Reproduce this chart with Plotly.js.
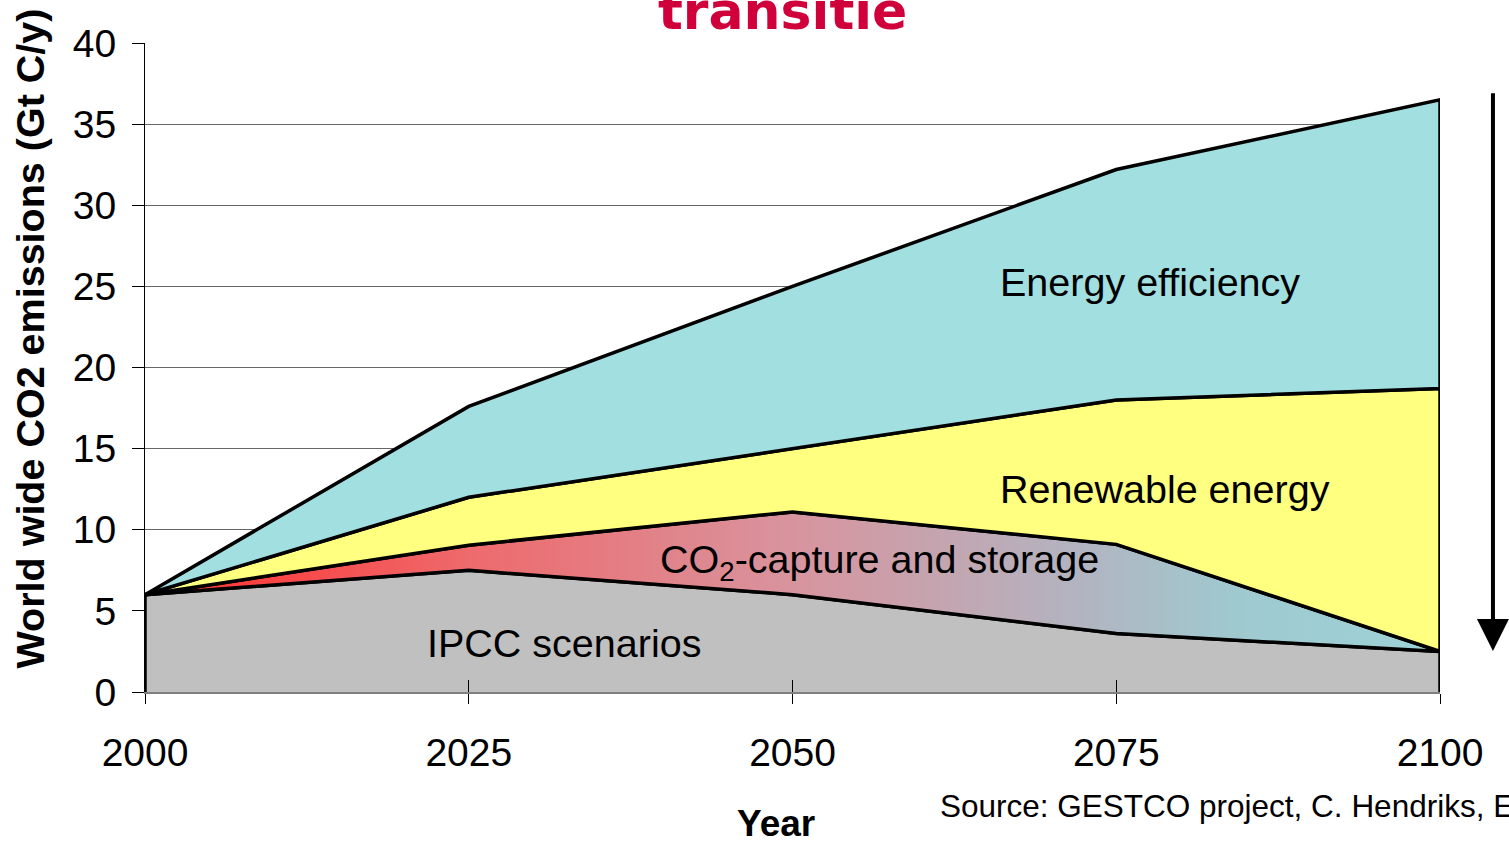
<!DOCTYPE html>
<html>
<head>
<meta charset="utf-8">
<script src="https://cdn.plot.ly/plotly-3.0.1.min.js"></script>
<style>html,body{margin:0;padding:0;background:#fff;}#chart{width:1509px;height:843px;}</style>
</head>
<body>
<div id="chart"></div>
<script>
// Years
const years = [2000, 2025, 2050, 2075, 2100];
// Upper boundary of each stacked layer (Gt C/y)
const ipccTop = [6, 7.5, 6, 3.6, 2.5];
const ccsTop = [6, 9.05, 11.1, 9.1, 2.5];
const renewableTop = [6, 12.0, 15.0, 18.0, 18.7];
const efficiencyTop = [6, 17.6, 25.0, 32.2, 36.5];
const yTicks = [0, 5, 10, 15, 20, 25, 30, 35, 40];
const layerNames = ["IPCC scenarios", "CO<sub>2</sub>-capture and storage", "Renewable energy", "Energy efficiency"];

const FONT = "Liberation Sans, Arial, sans-serif";

function band(top, bottom) {
  const n = years.length;
  const x = years.slice();
  const y = top.slice();
  for (let i = n - 1; i >= 0; i--) { x.push(years[i]); y.push(bottom[i]); }
  return {x, y};
}

const greyX = [years[0]].concat(years, [years[years.length - 1]]);
const greyY = [0].concat(ipccTop, [0]);

const ccs = band(ccsTop, ipccTop);
const ren = band(renewableTop, ccsTop);
const eff = band(efficiencyTop, renewableTop);

const lineStyle = {color: "#000", width: 3.5};

const traces = [
  {x: greyX, y: greyY, mode: "lines", fill: "toself", fillcolor: "#c0c0c0", line: lineStyle, hoverinfo: "skip", showlegend: false, name: layerNames[0]},
  {x: ccs.x, y: ccs.y, mode: "lines", fill: "toself", line: lineStyle, hoverinfo: "skip", showlegend: false, name: layerNames[1],
    fillcolor: "#e88080",
    fillgradient: {type: "horizontal", start: 2000, stop: 2100,
      colorscale: [[0, "#ff2c2c"], [0.25, "#ee6a6c"], [0.5, "#d8949e"], [0.72, "#b2b4c0"], [0.85, "#9ecad0"], [1, "#9ed2d6"]]}},
  {x: ren.x, y: ren.y, mode: "lines", fill: "toself", fillcolor: "#ffff80", line: lineStyle, hoverinfo: "skip", showlegend: false, name: layerNames[2]},
  {x: eff.x, y: eff.y, mode: "lines", fill: "toself", fillcolor: "#a2dfe0", line: lineStyle, hoverinfo: "skip", showlegend: false, name: layerNames[3]},
  {x: [2000], y: [0], xaxis: "x2", yaxis: "y", mode: "markers", marker: {opacity: 0}, hoverinfo: "skip", showlegend: false}
];

const labelFont = {family: FONT, size: 39.5, color: "#000"};

const layout = {
  width: 1509, height: 843,
  margin: {l: 145, r: 69, t: 43, b: 151},
  paper_bgcolor: "#fff", plot_bgcolor: "#fff",
  showlegend: false,
  xaxis: {
    range: [2000, 2100], tickvals: years, ticktext: years.map(String),
    ticks: "outside", ticklen: 10, tickwidth: 1, tickcolor: "#000",
    showgrid: false, zeroline: false,
    showline: true, linecolor: "#808080", linewidth: 2,
    tickfont: {family: FONT, size: 39, color: "#000"},
    ticklabelstandoff: 15,
    fixedrange: true
  },
  xaxis2: {
    range: [2000, 2100], tickvals: years, overlaying: "x", side: "bottom",
    ticks: "inside", ticklen: 12, tickwidth: 1, tickcolor: "#000",
    showticklabels: false, showgrid: false, zeroline: false, showline: false, fixedrange: true
  },
  yaxis: {
    range: [0, 40], tickvals: yTicks, ticktext: yTicks.map(String),
    ticks: "outside", ticklen: 12, tickwidth: 1, tickcolor: "#000",
    showgrid: true, gridcolor: "#666", gridwidth: 1,
    zeroline: false, showline: true, linecolor: "#000", linewidth: 1,
    tickfont: {family: FONT, size: 39, color: "#000"},
    ticklabelstandoff: 8,
    fixedrange: true
  },
  annotations: [
    {xref: "x", yref: "y", x: 2065.9, y: 25.3, text: layerNames[3], showarrow: false, xanchor: "left", yanchor: "middle", font: labelFont},
    {xref: "x", yref: "y", x: 2065.9, y: 12.5, text: layerNames[2], showarrow: false, xanchor: "left", yanchor: "middle", font: labelFont},
    {xref: "x", yref: "y", x: 2039.6, y: 8.0, text: "CO<sub>2</sub>-capture and storage", showarrow: false, xanchor: "left", yanchor: "middle", font: labelFont},
    {xref: "x", yref: "y", x: 2021.6, y: 3.0, text: layerNames[0], showarrow: false, xanchor: "left", yanchor: "middle", font: labelFont},
    {xref: "paper", yref: "paper", x: -0.0888, y: 0.5447, text: "<b>World wide CO2 emissions (Gt C/y)</b>", textangle: -90, showarrow: false,
      xanchor: "center", yanchor: "middle", font: {family: FONT, size: 39.5, color: "#000"}},
    {xref: "paper", yref: "paper", x: 0.4873, y: -0.2022, text: "<b>Year</b>", showarrow: false, xanchor: "center", yanchor: "middle",
      font: {family: FONT, size: 37, color: "#000"}},
    {xref: "paper", yref: "paper", x: 0.4919, y: 1.0, text: "<b>transitie</b>", showarrow: false, xanchor: "center", yanchor: "bottom",
      font: {family: "DejaVu Sans, Verdana, sans-serif", size: 52, color: "#d0003a"}},
    {xref: "paper", yref: "paper", x: 0.6124, y: -0.1757, text: "Source: GESTCO project, C. Hendriks, Ecofys", showarrow: false, xanchor: "left", yanchor: "middle",
      font: {family: FONT, size: 31.5, color: "#000"}},
    {xref: "paper", yref: "paper", axref: "paper", ayref: "paper", x: 1.0409, y: 0.063, ax: 1.0409, ay: 0.925, text: "", showarrow: true,
      arrowhead: 2, arrowsize: 1.6, arrowwidth: 4, arrowcolor: "#000"}
  ]
};

Plotly.newPlot("chart", traces, layout, {staticPlot: true, displayModeBar: false});
</script>
</body>
</html>
